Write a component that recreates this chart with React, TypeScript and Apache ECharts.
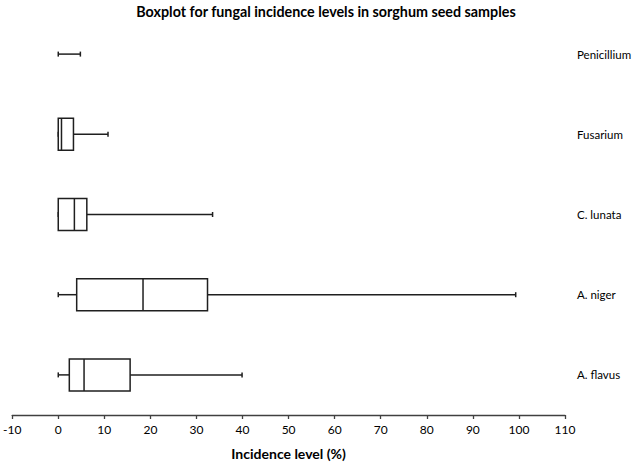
import React, { useEffect, useRef } from "react";
import * as echarts from "echarts";

const categories = ["A. flavus", "A. niger", "C. lunata", "Fusarium", "Penicillium"];
const minValues = [0, 0, 0, 0, 0];
const q1Values = [2.4, 4.0, 0, 0, 0];
const medianValues = [5.6, 18.4, 3.5, 0.7, 0];
const q3Values = [15.6, 32.4, 6.2, 3.3, 0];
const maxValues = [39.9, 99.3, 33.5, 10.8, 4.8];

const FONT = "Lato";
const LINE = "#1f1f1f";

export default function App() {
  const ref = useRef<HTMLDivElement>(null);
  useEffect(() => {
    if (!ref.current) return;
    const chart = echarts.init(ref.current, undefined, { renderer: "svg" });
    const data = categories.map((_, i) => [
      i,
      minValues[i],
      q1Values[i],
      medianValues[i],
      q3Values[i],
      maxValues[i],
    ]);
    const renderItem = (params: any, api: any) => {
      const idx = api.value(0);
      const mn = api.coord([api.value(1), idx]);
      const q1 = api.coord([api.value(2), idx]);
      const md = api.coord([api.value(3), idx]);
      const q3 = api.coord([api.value(4), idx]);
      const mx = api.coord([api.value(5), idx]);
      const y = mn[1];
      const h = 32;
      const cap = 2.5;
      const style = { stroke: LINE, lineWidth: 1.5, fill: "none" };
      const children: any[] = [];
      children.push({ type: "line", shape: { x1: mn[0], y1: y, x2: q1[0], y2: y }, style });
      children.push({ type: "line", shape: { x1: q3[0], y1: y, x2: mx[0], y2: y }, style });
      children.push({ type: "line", shape: { x1: mn[0], y1: y - cap, x2: mn[0], y2: y + cap }, style });
      children.push({ type: "line", shape: { x1: mx[0], y1: y - cap, x2: mx[0], y2: y + cap }, style });
      if (q3[0] - q1[0] > 0.5) {
        children.push({
          type: "rect",
          shape: { x: q1[0], y: y - h / 2, width: q3[0] - q1[0], height: h },
          style: { stroke: LINE, lineWidth: 1.5, fill: "#fff" },
        });
        children.push({ type: "line", shape: { x1: md[0], y1: y - h / 2, x2: md[0], y2: y + h / 2 }, style });
      }
      return { type: "group", children };
    };
    chart.setOption({
      animation: false,
      backgroundColor: "#fff",
      graphic: [
        {
          type: "text",
          x: 326,
          y: 11,
          style: {
            text: "Boxplot for fungal incidence levels in sorghum seed samples",
            fontFamily: FONT,
            fontWeight: "bold",
            fontSize: 14.3,
            fill: "#000",
            textAlign: "center",
            textVerticalAlign: "middle",
          },
        },
      ],
      grid: { left: 8, right: 73, top: 14, bottom: 46.5 },
      xAxis: {
        type: "value",
        min: -10,
        max: 110,
        interval: 10,
        splitLine: { show: false },
        axisLine: { show: true, onZero: false, lineStyle: { color: "#404040", width: 1.3 } },
        axisTick: { show: true, length: 4, lineStyle: { color: "#404040", width: 1.3 } },
        axisLabel: { fontFamily: FONT, fontSize: 12, color: "#000", margin: 8 },
        name: "Incidence level (%)",
        nameLocation: "middle",
        nameGap: 31,
        nameTextStyle: { fontFamily: FONT, fontSize: 14, fontWeight: "bold", color: "#000" },
      },
      yAxis: {
        type: "category",
        data: categories,
        position: "right",
        axisLine: { show: false },
        axisTick: { show: false },
        splitLine: { show: false },
        axisLabel: { fontFamily: FONT, fontSize: 11.5, color: "#000", margin: 12 },
      },
      series: [
        {
          type: "custom",
          renderItem,
          data,
          encode: { x: [1, 2, 3, 4, 5], y: 0 },
        },
      ],
    });
    return () => chart.dispose();
  }, []);
  return (
    <div
      ref={ref}
      style={{ position: "fixed", left: 0, top: 0, width: 638, height: 465 }}
    />
  );
}
